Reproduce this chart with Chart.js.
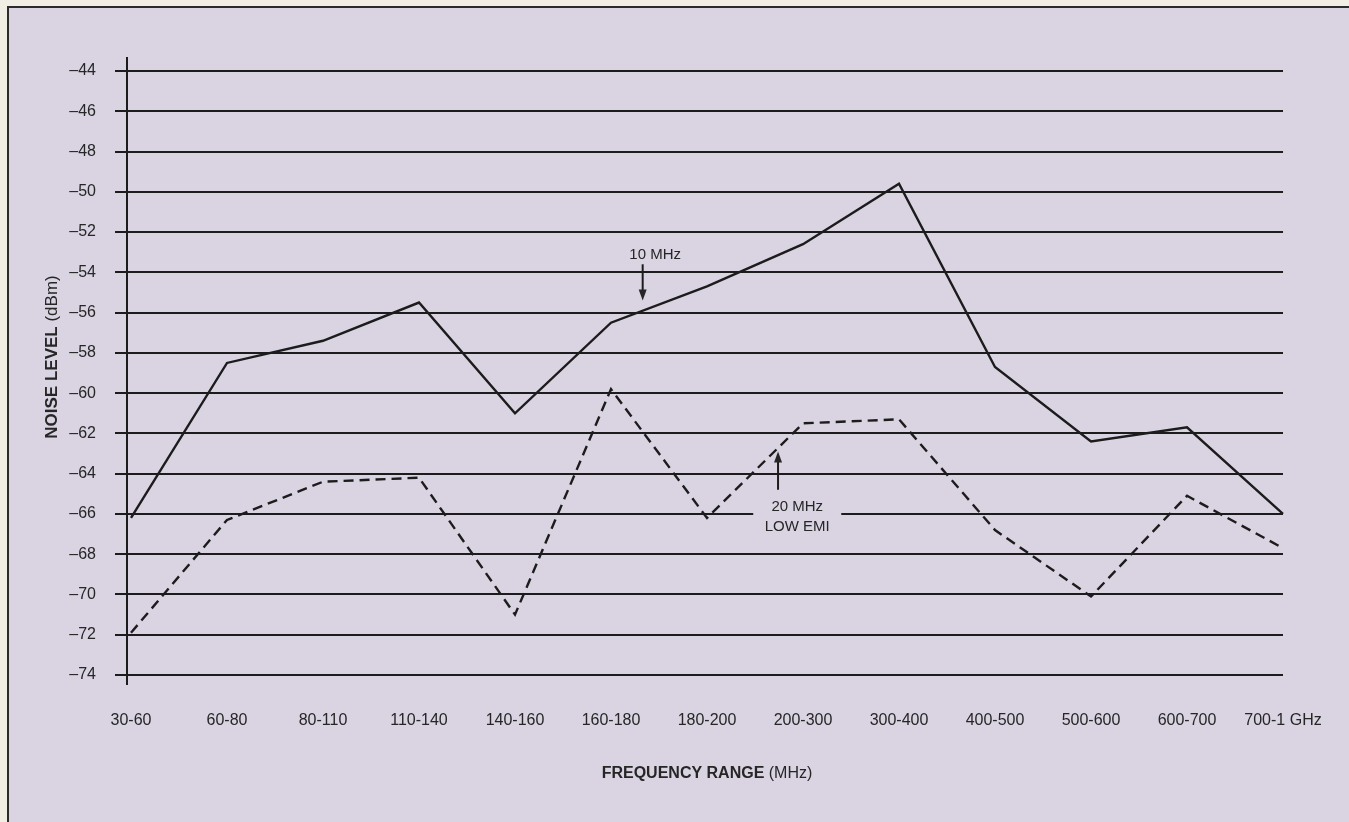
<!DOCTYPE html>
<html>
<head>
<title>Noise Level by Frequency Range</title>
<script src="https://cdn.jsdelivr.net/npm/chart.js"></script>
<style>
  html, body { margin: 0; padding: 0; background: #f1eee6; overflow: hidden; }
  .frame { position: absolute; left: 7px; top: 6px; width: 1360px; height: 830px; border: 2px solid #2b2b2b; background: #d9d3e2; }
  .wrap { position: absolute; left: 0; top: 0; width: 1349px; height: 822px; }
</style>
</head>
<body>
<div class="frame"></div>
<div class="wrap"><canvas id="noiseChart"></canvas></div>

<script>
    // Frequency ranges (MHz) along the bottom
    const ranges = ['30-60', '60-80', '80-110', '110-140', '140-160', '160-180', '180-200',
                    '200-300', '300-400', '400-500', '500-600', '600-700', '700-1 GHz'];

    // Noise level in dBm
    const noise10MHz = [-66.2, -58.5, -57.4, -55.5, -61.0, -56.5, -54.7,
                        -52.6, -49.6, -58.7, -62.4, -61.7, -66.0];
    const noise20MHzLowEmi = [-71.9, -66.3, -64.4, -64.2, -71.0, -59.8, -66.2,
                              -61.5, -61.3, -66.8, -70.1, -65.1, -67.7];

    const yMin = -74, yMax = -44, yStep = 2;

    const ink = '#1c1c1c';
    const textColor = '#262626';
    const fontFamily = '"Liberation Sans", Arial, Helvetica, sans-serif';

    // Callout labels, placed in data units (category index, dBm)
    const callouts = [
        { lines: ['10 MHz'], textX: 5.46, textY: -53.15, arrowX: 5.33, from: -53.6, to: -55.4 },
        { lines: ['20 MHz', 'LOW EMI'], textX: 6.94, textY: -65.66, arrowX: 6.74, from: -64.8, to: -62.9, patch: true }
    ];

    function mixedText(ctx, parts, cx, cy) {
        let total = 0;
        parts.forEach(p => { ctx.font = p[1]; total += ctx.measureText(p[0]).width; });
        let xx = cx - total / 2;
        ctx.textAlign = 'left';
        ctx.textBaseline = 'middle';
        parts.forEach(p => { ctx.font = p[1]; ctx.fillText(p[0], xx, cy); xx += ctx.measureText(p[0]).width; });
    }

    function arrow(ctx, x, y0, y1) {
        const d = y1 > y0 ? 1 : -1;
        ctx.beginPath();
        ctx.moveTo(x, y0);
        ctx.lineTo(x, y1 - d * 6);
        ctx.stroke();
        ctx.beginPath();
        ctx.moveTo(x, y1);
        ctx.lineTo(x - 4, y1 - d * 11);
        ctx.lineTo(x + 4, y1 - d * 11);
        ctx.closePath();
        ctx.fill();
    }

    const extras = {
        id: 'extras',
        beforeDatasetsDraw(chart) {
            const { ctx, chartArea: a, scales: { x, y } } = chart;
            ctx.save();
            // vertical axis, running a little past the grid
            ctx.strokeStyle = ink;
            ctx.lineWidth = 2;
            ctx.beginPath();
            ctx.moveTo(a.left - 4, a.top - 14);
            ctx.lineTo(a.left - 4, a.bottom + 10);
            ctx.stroke();

            // gap in the grid behind the lower callout
            callouts.filter(c => c.patch).forEach(c => {
                const cx = x.getPixelForValue(c.textX);
                const cy = y.getPixelForValue(c.textY);
                ctx.fillStyle = '#d9d3e2';
                ctx.fillRect(cx - 44, cy - 10, 88, 40);
            });
            ctx.restore();
        },
        afterDatasetsDraw(chart) {
            const { ctx, chartArea: a, scales: { x, y } } = chart;
            ctx.save();
            ctx.fillStyle = textColor;
            ctx.strokeStyle = ink;
            ctx.lineWidth = 2;

            callouts.forEach(c => {
                const tx = x.getPixelForValue(c.textX);
                const ty = y.getPixelForValue(c.textY);
                ctx.font = '15px ' + fontFamily;
                ctx.textAlign = 'center';
                ctx.textBaseline = 'middle';
                c.lines.forEach((t, i) => ctx.fillText(t, tx, ty + i * 20));
                arrow(ctx, x.getPixelForValue(c.arrowX), y.getPixelForValue(c.from), y.getPixelForValue(c.to));
            });

            // axis titles: bold name, plain unit
            mixedText(ctx, [['FREQUENCY RANGE ', 'bold 16px ' + fontFamily], ['(MHz)', '16px ' + fontFamily]],
                      (a.left + a.right) / 2, a.bottom + 99);

            ctx.translate(52, (a.top + a.bottom) / 2 - 16);
            ctx.rotate(-Math.PI / 2);
            mixedText(ctx, [['NOISE LEVEL ', 'bold 17px ' + fontFamily], ['(dBm)', '17px ' + fontFamily]], 0, 0);
            ctx.restore();
        }
    };

    const ctx = document.getElementById('noiseChart').getContext('2d');
    const chart = new Chart(ctx, {
        type: 'line',
        data: {
            labels: ranges,
            datasets: [
                { label: '10 MHz', data: noise10MHz, borderColor: ink, borderWidth: 2.4,
                  pointRadius: 0, tension: 0, fill: false },
                { label: '20 MHz LOW EMI', data: noise20MHzLowEmi, borderColor: ink, borderWidth: 2.4,
                  borderDash: [10, 6], pointRadius: 0, tension: 0, fill: false }
            ]
        },
        options: {
            responsive: true,
            maintainAspectRatio: false,
            animation: false,
            layout: { padding: { top: 71, right: 66, left: 0, bottom: 0 } },
            plugins: { legend: { display: false }, tooltip: { enabled: false } },
            scales: {
                x: {
                    type: 'category',
                    offset: false,
                    grid: { display: false, drawTicks: false },
                    border: { display: false },
                    ticks: { color: textColor, font: { family: fontFamily, size: 16 },
                             padding: 36, maxRotation: 0, autoSkip: false },
                    afterFit: s => { s.height = 147; s.paddingLeft = 0; s.paddingRight = 0; }
                },
                y: {
                    min: yMin,
                    max: yMax,
                    grid: { color: ink, lineWidth: 2, tickLength: 16 },
                    border: { display: false },
                    ticks: { stepSize: yStep, color: textColor, padding: 19,
                             font: { family: fontFamily, size: 16 },
                             callback: v => String(v).replace('-', '\u2013') },
                    afterFit: s => { s.width = 131; }
                }
            }
        },
        plugins: [extras]
    });
</script>
</body>
</html>
